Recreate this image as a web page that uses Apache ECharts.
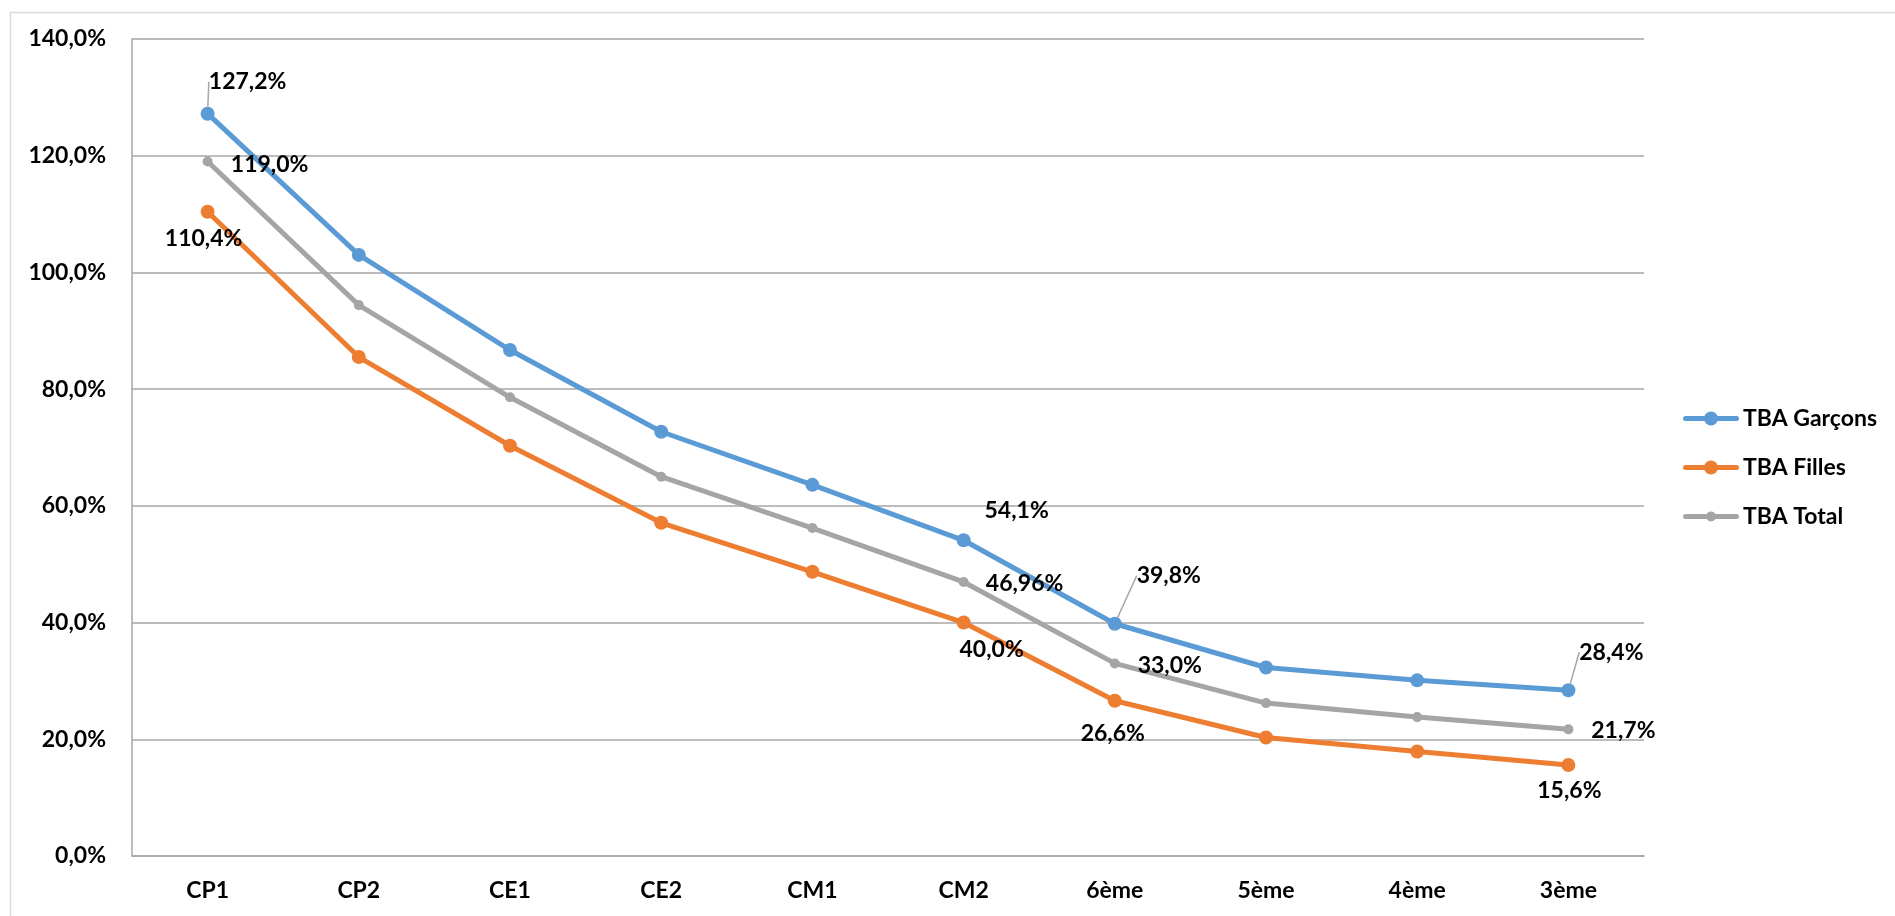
<!DOCTYPE html>
<html>
<head>
<meta charset="utf-8">
<script src="https://cdn.jsdelivr.net/npm/echarts@6/dist/echarts.min.js"></script>
<style>
html,body{margin:0;padding:0;background:#fff;}
#chart{width:1895px;height:916px;}
</style>
</head>
<body>
<div id="chart"></div>
<script>
// ---- data ----
const categories = ['CP1','CP2','CE1','CE2','CM1','CM2','6ème','5ème','4ème','3ème'];
const garcons = [127.2, 103.0, 86.7, 72.7, 63.6, 54.1, 39.8, 32.3, 30.1, 28.4];
const filles  = [110.4, 85.5, 70.3, 57.1, 48.7, 40.0, 26.6, 20.3, 17.9, 15.6];
const total   = [119.0, 94.4, 78.6, 65.0, 56.2, 46.96, 33.0, 26.2, 23.8, 21.7];
const seriesNames = ['TBA Garçons', 'TBA Filles', 'TBA Total'];
const labeledIndices = [0, 5, 6, 9];
const yMin = 0, yMax = 140, yStep = 20;

// ---- styling / label placement ----
const FONT = 'Lato';
const FS = 23;
const colors = ['#5B9BD5', '#ED7D31', '#A5A5A5'];
// offsets of label centres from the point, and whether a leader line is drawn
const labelOffsets = [
  {0: [40, -32, true], 5: [53, -30, false], 6: [54, -48, true], 9: [43, -38, true]},
  {0: [-4, 27, false], 5: [28, 27, false], 6: [-2, 33, false], 9: [1, 26, false]},
  {0: [62, 3, false], 5: [61, 2, false], 6: [55, 2, false], 9: [55, 1, false]}
];

function fmtPct(v) {
  const one = Math.abs(Math.round(v * 10) - v * 10) < 1e-6;
  return v.toFixed(one ? 1 : 2).replace('.', ',') + '%';
}

function buildData(values, s) {
  return values.map((v, i) => {
    if (labeledIndices.indexOf(i) < 0) return v;
    return {
      value: v,
      label: {show: true},
      labelLine: {show: labelOffsets[s][i][2]}
    };
  });
}

const seriesValues = [garcons, filles, total];
const symbolSizes = [14, 14, 10];
const seriesZ = [2, 3, 4];
// legend icons: thick line with a marker in the middle
const iconBig = 'path://M2.5,4.5 L53.5,4.5 A2.5,2.5 0 0,1 53.5,9.5 L2.5,9.5 A2.5,2.5 0 0,1 2.5,4.5 Z M21,7 A7,7 0 1,1 35,7 A7,7 0 1,1 21,7 Z M0,0 L0.01,0 Z M56,14 L55.99,14 Z';
const iconSmall = 'path://M2.5,4.5 L53.5,4.5 A2.5,2.5 0 0,1 53.5,9.5 L2.5,9.5 A2.5,2.5 0 0,1 2.5,4.5 Z M23,7 A5,5 0 1,1 33,7 A5,5 0 1,1 23,7 Z M0,0 L0.01,0 Z M56,14 L55.99,14 Z';
const legendIcons = [iconBig, iconBig, iconSmall];

const chart = echarts.init(document.getElementById('chart'), null, {renderer: 'canvas'});
const option = {
  animation: false,
  backgroundColor: '#ffffff',
  graphic: [{
    type: 'rect', left: 8, top: 10, z: -10, silent: true,
    shape: {width: 1920, height: 1000},
    style: {fill: 'none', stroke: '#D9D9D9', lineWidth: 1.5}
  }],
  grid: {left: 132, right: 251, top: 39, bottom: 60, containLabel: false},
  legend: {
    orient: 'vertical',
    left: 1678,
    top: 401,
    itemWidth: 56,
    itemHeight: 14,
    itemGap: 24,
    data: seriesNames.map((n, i) => ({name: n, icon: legendIcons[i]})),
    itemStyle: {borderWidth: 0},
    textStyle: {fontFamily: FONT, fontWeight: 'bold', fontSize: FS, color: '#000', lineHeight: 25, padding: [0,0,0,-1]}
  },
  xAxis: {
    type: 'category',
    data: categories,
    boundaryGap: true,
    axisLine: {show: true, lineStyle: {color: '#A6A6A6', width: 1.5}},
    axisTick: {show: false},
    axisLabel: {margin: 23, fontFamily: FONT, fontWeight: 'bold', fontSize: FS, color: '#000'},
    splitLine: {show: false}
  },
  yAxis: {
    type: 'value',
    min: yMin, max: yMax, interval: yStep,
    axisLine: {show: true, lineStyle: {color: '#A6A6A6', width: 1.5}},
    axisTick: {show: false},
    axisLabel: {
      margin: 26, fontFamily: FONT, fontWeight: 'bold', fontSize: FS, color: '#000',
      formatter: v => v.toFixed(1).replace('.', ',') + '%'
    },
    splitLine: {show: true, lineStyle: {color: '#A6A6A6', width: 1.5}}
  },
  series: seriesValues.map((vals, s) => ({
    name: seriesNames[s],
    type: 'line',
    data: buildData(vals, s),
    color: colors[s],
    symbol: 'circle',
    symbolSize: symbolSizes[s],
    showSymbol: true,
    lineStyle: {width: 5, color: colors[s]},
    itemStyle: {color: colors[s]},
    emphasis: {disabled: true},
    label: {
      show: false,
      position: 'top',
      fontFamily: FONT, fontWeight: 'bold', fontSize: FS, color: '#000',
      formatter: p => fmtPct(typeof p.value === 'number' ? p.value : p.data.value)
    },
    labelLine: {show: false, lineStyle: {color: '#A6A6A6', width: 1.5}, smooth: false},
    labelLayout: function (params) {
      const off = labelOffsets[s][params.dataIndex];
      if (!off) return {};
      const r = params.rect;
      const cx = r.x + r.width / 2, cy = r.y + r.height / 2;
      const lx = cx + off[0], ly = cy + off[1];
      const res = {x: lx, y: ly, align: 'center', verticalAlign: 'middle'};
      if (off[2]) {
        res.labelLinePoints = [[cx, cy], [(cx + lx) / 2, (cy + ly + 18) / 2], [lx, ly + 18]];
      }
      return res;
    },
    z: seriesZ[s]
  }))
};
chart.setOption(option);
chart.resize({width: 1895, height: 916});
</script>
</body>
</html>
